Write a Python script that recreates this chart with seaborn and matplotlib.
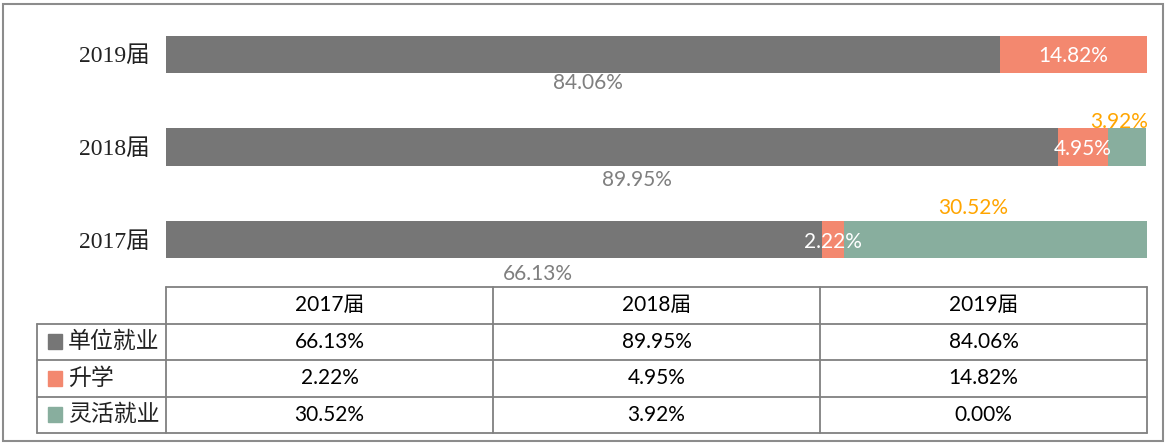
import matplotlib
matplotlib.use('Agg')
import matplotlib.pyplot as plt
import seaborn as sns
import pandas as pd
from matplotlib.patches import Rectangle

# 数据
years = ['2017届', '2018届', '2019届']
series_names = ['单位就业', '升学', '灵活就业']
unit_emp = [66.13, 89.95, 84.06]
further_study = [2.22, 4.95, 14.82]
flexible_emp = [30.52, 3.92, 0.00]

colors = ['#767676', '#F3886F', '#88AE9E']
label_colors = ['#7F7F7F', 'white', '#FFA500']

sns.set_theme(style='white')
num_font = ['Lato', 'Noto Sans CJK SC']
serif_font = ['Liberation Serif', 'Noto Sans CJK SC']
cjk_font = ['Noto Sans CJK SC', 'DejaVu Sans']
plt.rcParams['font.family'] = num_font

df = pd.DataFrame({'year': years, 'unit': unit_emp, 'further': further_study, 'flex': flexible_emp})
df['c1'] = df['unit']
df['c2'] = df['unit'] + df['further']
df['c3'] = df['c2'] + df['flex']
order = years[::-1]

fig = plt.figure(figsize=(11.67, 4.45), dpi=100)
W, H = 1167, 445
ax = fig.add_axes([166 / W, (H - 286) / H, 981 / W, 278 / H])

# 堆叠条形图：先画总长，再覆盖
for col, c in zip(['c3', 'c2', 'c1'], colors[::-1]):
    sns.barplot(data=df, x=col, y='year', order=order, orient='h', color=c,
                width=0.4, saturation=1, ax=ax, edgecolor='none')

ax.set_xlim(0, df['c3'].max())
ax.set_ylim(2.5, -0.5)
ax.set_xlabel('')
ax.set_ylabel('')
ax.set_xticks([])
for s in ax.spines.values():
    s.set_visible(False)
ax.tick_params(axis='y', length=0, pad=12)
for t in ax.get_yticklabels():
    t.set_family(serif_font)
    t.set_fontsize(17)
    t.set_color('#222222')

# 数据标签
pos = {y: i for i, y in enumerate(order)}
gray_dx = {'2019届': 0.5, '2018届': 2.5, '2017届': 4.4}
gray_dy = {'2019届': 0.31, '2018届': 0.36, '2017届': 0.37}
orange_dx = {'2018届': -0.8, '2017届': -2.3}
orange_dy = {'2018届': -0.27, '2017届': -0.34}
for _, r in df.iterrows():
    yi = pos[r['year']]
    ax.text(r['unit'] / 2 + gray_dx[r['year']], yi + gray_dy[r['year']], f"{r['unit']:.2f}%",
            ha='center', va='center', color=label_colors[0], fontsize=15)
    ax.text(r['unit'] + r['further'] / 2, yi + 0.02, f"{r['further']:.2f}%",
            ha='center', va='center', color=label_colors[1], fontsize=15)
    if r['flex'] > 0:
        ax.text(r['c2'] + r['flex'] / 2 + orange_dx[r['year']], yi + orange_dy[r['year']],
                f"{r['flex']:.2f}%", ha='center', va='center', color=label_colors[2], fontsize=15)

# 数据表
tax = fig.add_axes([37 / W, 12 / H, 1110 / W, 146 / H])
lab_w = 129 / 327
tax.set_xlim(-lab_w, 3)
tax.set_ylim(4, 0)
tax.axis('off')
lc = '#808080'
lw = 1.3
tax.plot([0, 3], [0, 0], color=lc, lw=lw, clip_on=False)
for yy in [1, 2, 3, 4]:
    tax.plot([-lab_w, 3], [yy, yy], color=lc, lw=lw, clip_on=False)
tax.plot([-lab_w, -lab_w], [1, 4], color=lc, lw=lw, clip_on=False)
for xx in [0, 1, 2, 3]:
    tax.plot([xx, xx], [0, 4], color=lc, lw=lw, clip_on=False)

for j, y in enumerate(years):
    tax.text(j + 0.5, 0.5, y, ha='center', va='center', fontsize=15, color='black', family=num_font)

table_vals = [unit_emp, further_study, flexible_emp]
for i, (name, vals) in enumerate(zip(series_names, table_vals)):
    tax.add_patch(Rectangle((-lab_w + 0.035, i + 1.3), 0.042, 0.4, color=colors[i], clip_on=False))
    tax.text(-lab_w + 0.095, i + 1.5, name, ha='left', va='center', fontsize=16.5,
             color='#222222', family=cjk_font)
    for j, v in enumerate(vals):
        tax.text(j + 0.5, i + 1.5, f'{v:.2f}%', ha='center', va='center', fontsize=15, color='black')

# 外框
fig.add_artist(Rectangle((3 / W, 4 / H), 1160 / W, 437 / H, transform=fig.transFigure,
                         fill=False, edgecolor='#8C8C8C', lw=1.5))

fig.savefig('out.png', dpi=100)
